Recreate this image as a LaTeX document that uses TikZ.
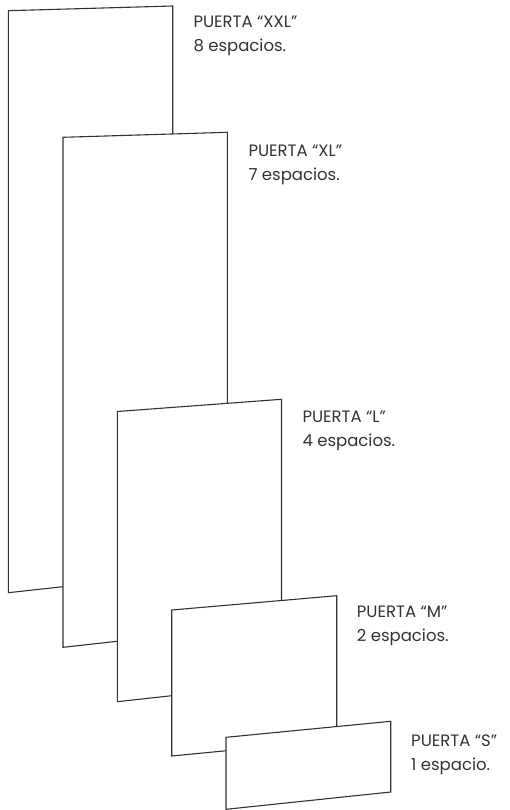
\documentclass[tikz,border=0pt]{standalone}
\usepackage{fontspec}
\setmainfont{Poppins}

\tikzset{
	puerta/.style={fill=white, draw=black!80, line width=1.1pt, line join=miter},
	rotulo/.style={anchor=north west, inner sep=0pt, align=left, text=black!80,
		font={\fontsize{16.5}{24}\selectfont}}
}

\begin{document}
\begin{tikzpicture}[x=1pt, y=-1pt]
		% \draw[help lines, step=10] (0,0) grid (510,810);
		\useasboundingbox (0,0) rectangle (510,810);

		\draw[puerta] (8.3,10.7) -- (172.7,6) -- (172.7,574.6) -- (8.3,592.7) -- cycle;
		\draw[puerta] (63,137.3) -- (227.3,132.3) -- (227.3,629.1) -- (63,647.3) -- cycle;
		\draw[puerta] (117.3,411.5) -- (281.5,399.3) -- (281.5,683.6) -- (117.3,701.7) -- cycle;
		\draw[puerta] (171.7,610) -- (336.7,595.7) -- (336.7,740) -- (171.7,756) -- cycle;
		\draw[puerta] (226,737.3) -- (390.7,721.3) -- (390.7,792) -- (226,809.3) -- cycle;

		\node[rotulo] (xxl) at (193.3,15.5) {PUERTA “XXL”\\8 espacios.};
		\node[rotulo] (xl) at (248.3,144.5) {PUERTA “XL”\\7 espacios.};
		\node[rotulo] (l) at (302.3,411.2) {PUERTA “L”\\4 espacios.};
		\node[rotulo] (m) at (356.7,606.2) {PUERTA “M”\\2 espacios.};
		\node[rotulo] (s) at (411,734.8) {PUERTA “S”\\1 espacio.};
	\end{tikzpicture}
\end{document}
